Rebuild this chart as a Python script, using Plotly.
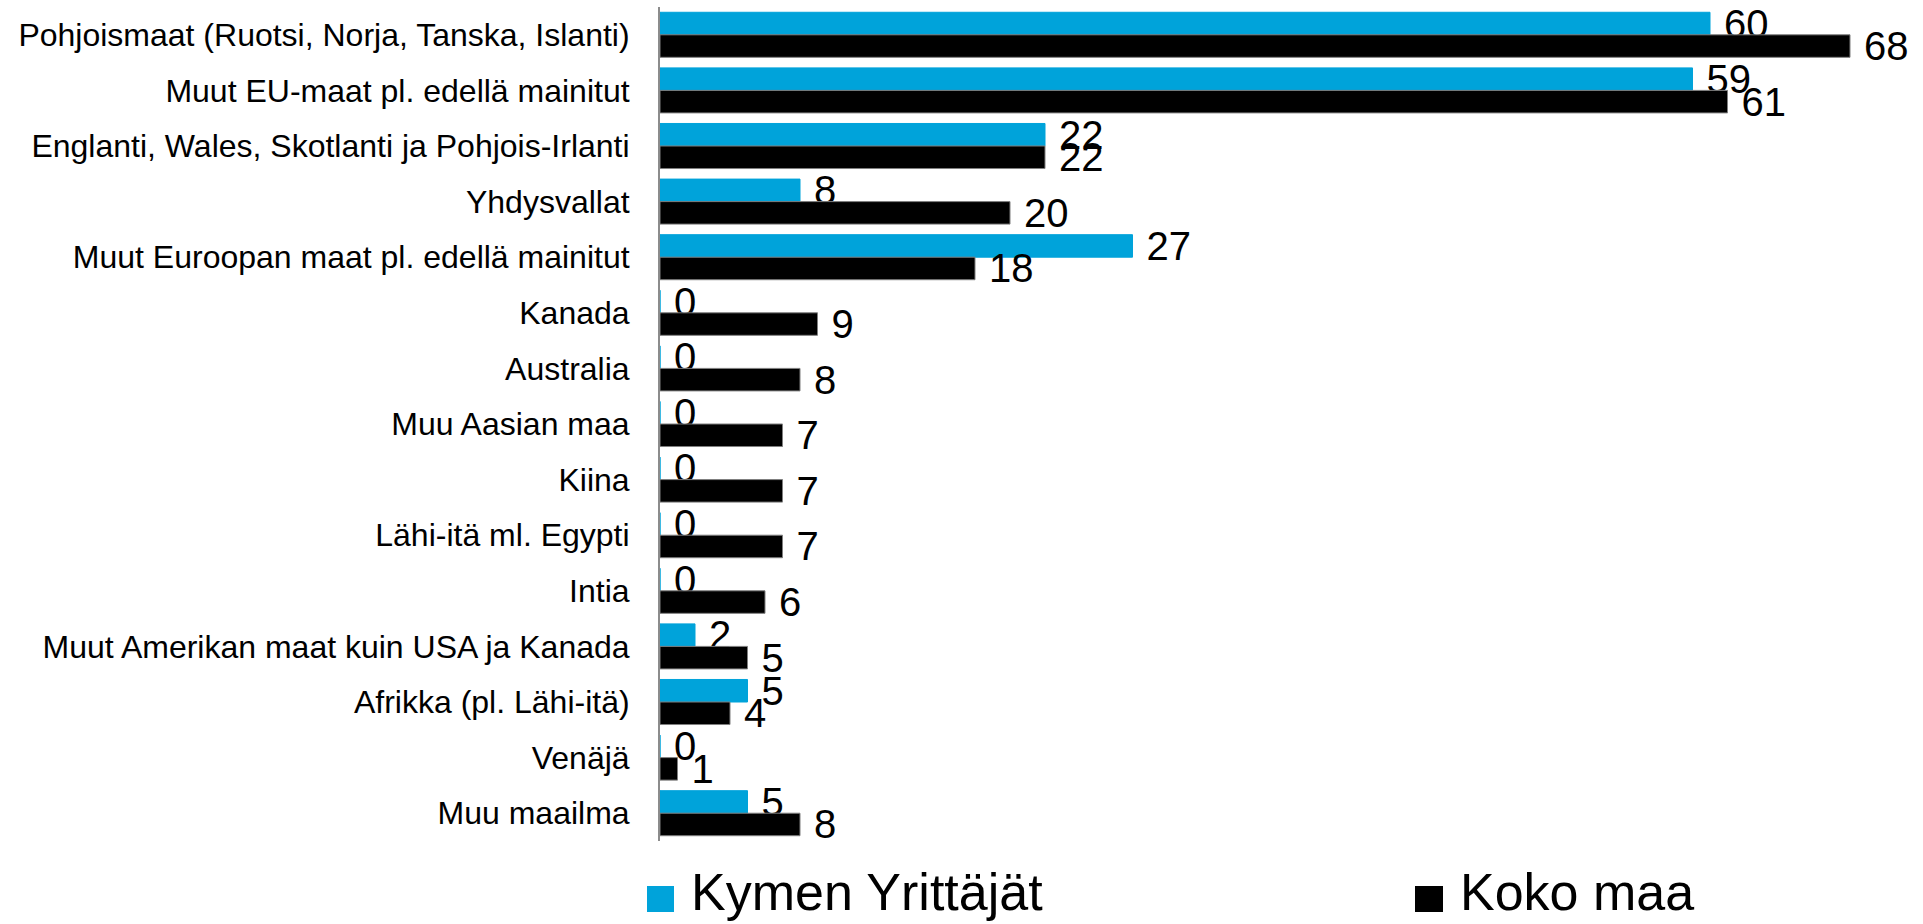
import plotly.graph_objects as go

categories = [
    "Pohjoismaat (Ruotsi, Norja, Tanska, Islanti)",
    "Muut EU-maat pl. edellä mainitut",
    "Englanti, Wales, Skotlanti ja Pohjois-Irlanti",
    "Yhdysvallat",
    "Muut Euroopan maat pl. edellä mainitut",
    "Kanada",
    "Australia",
    "Muu Aasian maa",
    "Kiina",
    "Lähi-itä ml. Egypti",
    "Intia",
    "Muut Amerikan maat kuin USA ja Kanada",
    "Afrikka (pl. Lähi-itä)",
    "Venäjä",
    "Muu maailma",
]
kymen = [60, 59, 22, 8, 27, 0, 0, 0, 0, 0, 0, 2, 5, 0, 5]
koko_maa = [68, 61, 22, 20, 18, 9, 8, 7, 7, 7, 6, 5, 4, 1, 8]
series_names = ["Kymen Yrittäjät", "Koko maa"]
colors = ["#00A3DA", "#000000"]

W, H = 1923, 924
ML, MR, MT, MB = 660, 3, 7, 83
PW, PH = W - ML - MR, H - MT - MB

def px_x(px):
    return (px - ML) / PW

def px_y(py):
    return (H - MB - py) / PH

font_family = "Arial, Liberation Sans, sans-serif"

fig = go.Figure()
for name, vals, col, lc in [(series_names[0], kymen, colors[0], colors[0]),
                             (series_names[1], koko_maa, colors[1], "#7f7f7f")]:
    fig.add_trace(go.Bar(
        y=categories, x=vals, orientation="h", name=name,
        marker=dict(color=col, line=dict(color=lc, width=1)),
        text=vals, texttemplate="\u00a0%{x}", textposition="outside",
        textfont=dict(family=font_family, size=40, color="#000000"),
        constraintext="none", cliponaxis=False, showlegend=False,
    ))

fig.update_layout(
    width=W, height=H,
    margin=dict(l=ML, r=MR, t=MT, b=MB, autoexpand=False),
    barmode="group", bargap=0.19, bargroupgap=0,
    plot_bgcolor="white", paper_bgcolor="white",
    font=dict(family=font_family, color="#000000"),
    xaxis=dict(range=[0, 72], showgrid=False, zeroline=False, showticklabels=False,
               showline=False, ticks="", automargin=False),
    yaxis=dict(autorange="reversed", showgrid=False, zeroline=False,
               showline=True, linecolor="#8c8c8c", linewidth=2, ticks="",
               tickfont=dict(family=font_family, size=32, color="#000000"),
               ticklabelstandoff=22, automargin=False),
)

# Legend drawn as shapes + text
legend_items = [(647, 674, 689), (1415, 1443, 1458)]
for (x0, x1, tx), name, col in zip(legend_items, series_names, colors):
    fig.add_shape(type="rect", xref="paper", yref="paper",
                  x0=px_x(x0), x1=px_x(x1), y0=px_y(912), y1=px_y(886),
                  fillcolor=col, line=dict(width=0))
    fig.add_annotation(xref="paper", yref="paper", x=px_x(tx), y=px_y(892),
                       xanchor="left", yanchor="middle", showarrow=False,
                       text=name, font=dict(family=font_family, size=52, color="#000000"))

fig.write_html("out.html", config={"displayModeBar": False},
               post_script="document.body.style.margin='0';document.body.style.overflow='hidden';")
